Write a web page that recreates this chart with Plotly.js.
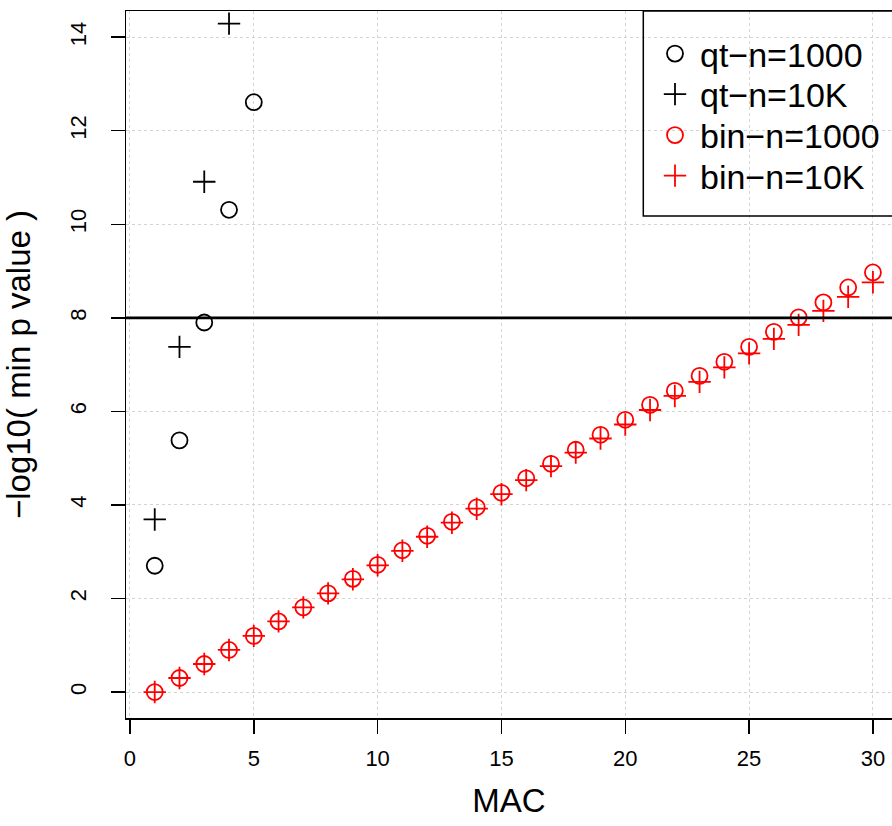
<!DOCTYPE html>
<html>
<head>
<meta charset="utf-8">
<script src="https://cdn.plot.ly/plotly-3.0.1.min.js"></script>
<style>html,body{margin:0;padding:0;background:#fff;}#chart{width:892px;height:826px;}</style>
</head>
<body>
<div id="chart"></div>
<script>
// ---- data ----
var macQt1000 = [1, 2, 3, 4, 5];
var qt1000 = [2.70, 5.38, 7.90, 10.31, 12.61];

var macQt10K = [1, 2, 3, 4];
var qt10K = [3.69, 7.38, 10.91, 14.29];

var macBin = [1, 2, 3, 4, 5, 6, 7, 8, 9, 10, 11, 12, 13, 14, 15, 16, 17, 18, 19, 20, 21, 22, 23, 24, 25, 26, 27, 28, 29, 30];
var bin1000 = [0.00, 0.30, 0.60, 0.90, 1.20, 1.51, 1.81, 2.11, 2.42, 2.72, 3.03, 3.34, 3.64, 3.95, 4.26, 4.57, 4.88, 5.18, 5.50, 5.82, 6.14, 6.44, 6.76, 7.06, 7.38, 7.70, 8.01, 8.33, 8.65, 8.97];
var bin10K = [0.00, 0.30, 0.60, 0.90, 1.20, 1.51, 1.81, 2.11, 2.41, 2.71, 3.02, 3.32, 3.62, 3.92, 4.23, 4.53, 4.83, 5.12, 5.42, 5.72, 6.03, 6.33, 6.63, 6.94, 7.24, 7.55, 7.85, 8.15, 8.45, 8.76];

var seriesNames = ["qt\u2212n=1000", "qt\u2212n=10K", "bin\u2212n=1000", "bin\u2212n=10K"];
var xTicks = [0, 5, 10, 15, 20, 25, 30];
var yTicks = [0, 2, 4, 6, 8, 10, 12, 14];
var threshold = 8;

// ---- drawing ----
var FONT = "Liberation Sans, Arial, Helvetica, sans-serif";
var legendIds = ["legend", "legend2", "legend3", "legend4"];
function mk(x, y, name, sym, color, lg) {
  return {
    type: "scatter", mode: "markers", x: x, y: y, name: name, legend: lg,
    marker: {symbol: sym, size: 16, color: color, line: {color: color, width: 1.8}},
    cliponaxis: false, hoverinfo: "x+y"
  };
}
var traces = [
  mk(macQt1000, qt1000, seriesNames[0], "circle-open", "#000000", legendIds[0]),
  mk(macQt10K, qt10K, seriesNames[1], "cross-thin-open", "#000000", legendIds[1]),
  mk(macBin, bin1000, seriesNames[2], "circle-open", "#ff0000", legendIds[2]),
  mk(macBin, bin10K, seriesNames[3], "cross-thin-open", "#ff0000", legendIds[3])
];

// plot area in pixels (for placing the legend rows)
var L = 126, T = 11, W = 892 - 126, H = 826 - 11 - 108;
function py(p) { return 1 - (p - T) / H; }
function px(p) { return (p - L) / W; }
var rowCenters = [54, 94.5, 135.5, 176];

var layout = {
  width: 892, height: 826,
  margin: {l: L, r: 0, t: T, b: 108, autoexpand: false},
  paper_bgcolor: "#ffffff", plot_bgcolor: "#ffffff",
  font: {family: FONT, color: "#000000", size: 22},
  showlegend: true,
  xaxis: {
    range: [-0.16, 30.77], tickmode: "array", tickvals: xTicks,
    ticks: "outside", ticklen: 14, tickwidth: 1.5, tickcolor: "#000",
    showline: true, linewidth: 1.5, linecolor: "#000", mirror: true,
    showgrid: true, gridcolor: "#d3d3d3", griddash: "dot", gridwidth: 1,
    zeroline: false, ticklabelstandoff: 6,
    tickfont: {family: FONT, size: 22, color: "#000"},
    title: {text: "MAC", font: {family: FONT, size: 33, color: "#000"}, standoff: 19}
  },
  yaxis: {
    range: [-0.555, 14.56], tickmode: "array", tickvals: yTicks,
    ticks: "outside", ticklen: 14, tickwidth: 1.5, tickcolor: "#000",
    showline: true, linewidth: 1.5, linecolor: "#000", mirror: false,
    showgrid: true, gridcolor: "#d3d3d3", griddash: "dot", gridwidth: 1,
    zeroline: false, tickangle: -90, ticklabelstandoff: 16,
    tickfont: {family: FONT, size: 22, color: "#000"},
    title: {text: "\u2212log10( min p value )", font: {family: FONT, size: 33, color: "#000"}, standoff: 28}
  },
  shapes: [
    {type: "line", xref: "paper", x0: 0, x1: 1, yref: "y", y0: threshold, y1: threshold,
     line: {color: "#000", width: 2.6}},
    {type: "rect", xref: "paper", yref: "paper", x0: px(643.3), x1: 1.05, y0: py(216), y1: 1,
     line: {color: "#000", width: 1.5}, fillcolor: "rgba(0,0,0,0)", layer: "above"}
  ]
};
legendIds.forEach(function (id, i) {
  layout[id] = {
    x: px(650), y: py(rowCenters[i]), xanchor: "left", yanchor: "middle",
    bgcolor: "rgba(0,0,0,0)", borderwidth: 0, itemwidth: 40,
    font: {family: FONT, size: 34, color: "#000000"}
  };
});

Plotly.newPlot("chart", traces, layout, {displayModeBar: false, staticPlot: true});
</script>
</body>
</html>
